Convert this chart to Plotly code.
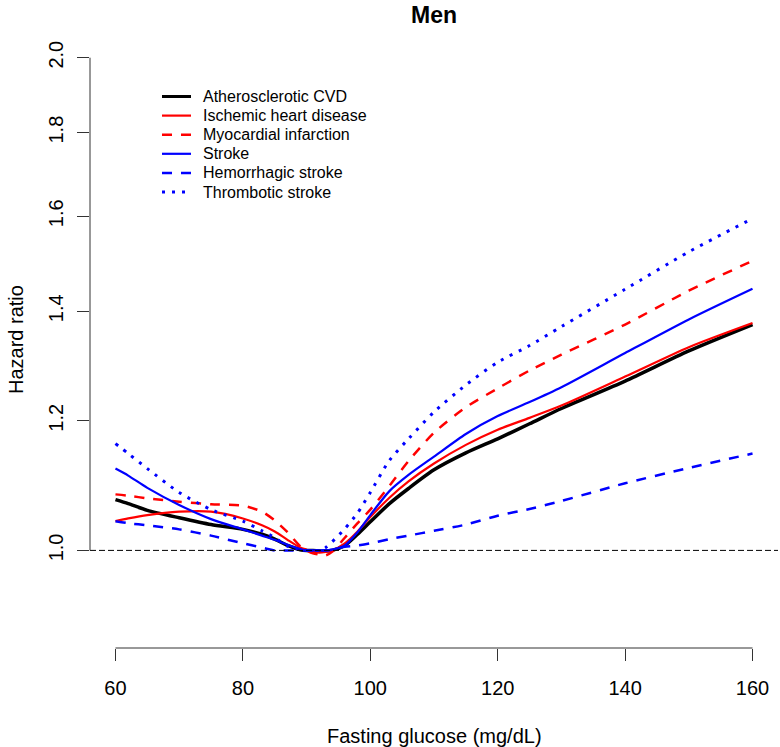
import math
import plotly.graph_objects as go

# ---- data ----
glucose = [60, 62, 65, 70, 75, 80, 83, 85, 87, 89, 90, 91, 92, 93, 94, 96, 98, 100,
           103, 106, 110, 115, 120, 125, 130, 140, 150, 160]

ascvd = [1.074, 1.068, 1.058, 1.047, 1.037, 1.030, 1.023, 1.016, 1.007, 1.001, 1.000, 1.000,
         0.999, 0.999, 1.000, 1.007, 1.023, 1.041, 1.068, 1.091, 1.120, 1.147, 1.170, 1.195,
         1.221, 1.269, 1.324, 1.374]
ihd = [1.042, 1.046, 1.051, 1.056, 1.056, 1.046, 1.036, 1.027, 1.015, 1.004, 1.001, 0.998,
       0.997, 0.998, 1.000, 1.010, 1.027, 1.048, 1.077, 1.102, 1.130, 1.160, 1.185, 1.205,
       1.226, 1.277, 1.331, 1.377]
mi = [1.082, 1.080, 1.076, 1.071, 1.067, 1.065, 1.056, 1.043, 1.026, 1.006, 1.000, 0.996,
      0.994, 0.993, 0.998, 1.018, 1.039, 1.059, 1.095, 1.134, 1.180, 1.223, 1.256, 1.288,
      1.317, 1.374, 1.441, 1.503]
stroke = [1.122, 1.111, 1.092, 1.066, 1.045, 1.030, 1.021, 1.015, 1.008, 1.002, 1.000, 1.000,
          1.000, 1.000, 1.001, 1.007, 1.026, 1.051, 1.087, 1.112, 1.141, 1.178, 1.208, 1.232,
          1.258, 1.320, 1.384, 1.445]
hemorrhagic = [1.042, 1.039, 1.036, 1.030, 1.021, 1.010, 1.004, 1.000, 1.000, 1.000, 1.000,
               1.000, 1.000, 1.000, 1.001, 1.005, 1.007, 1.010, 1.016, 1.021, 1.028, 1.037,
               1.050, 1.060, 1.072, 1.099, 1.123, 1.146]
thrombotic = [1.162, 1.146, 1.122, 1.085, 1.059, 1.042, 1.028, 1.018, 1.006, 1.001, 1.000,
              1.000, 1.000, 1.004, 1.012, 1.031, 1.054, 1.085, 1.135, 1.170, 1.215, 1.262,
              1.303, 1.334, 1.370, 1.444, 1.522, 1.595]

series_names = ["Atherosclerotic CVD", "Ischemic heart disease", "Myocardial infarction",
                "Stroke", "Hemorrhagic stroke", "Thrombotic stroke"]
series_values = [ascvd, ihd, mi, stroke, hemorrhagic, thrombotic]

x_ticks = [60, 80, 100, 120, 140, 160]
y_ticks = [1.0, 1.2, 1.4, 1.6, 1.8, 2.0]
y_tick_labels = ["1.0", "1.2", "1.4", "1.6", "1.8", "2.0"]
reference_hr = 1.0

title_text = "Men"
x_title = "Fasting glucose (mg/dL)"
y_title = "Hazard ratio"

# ---- styles ----
styles = [
    dict(color="#000000", width=3.5, dash="solid"),
    dict(color="#FF0000", width=2.2, dash="solid"),
    dict(color="#FF0000", width=2.5, dash="10px,9px"),
    dict(color="#0000FF", width=2.2, dash="solid"),
    dict(color="#0000FF", width=2.5, dash="10px,9px"),
    dict(color="#0000FF", width=3, dash="3px,7px"),
]

FONT = "Liberation Sans, Arial, sans-serif"
W, H = 780, 747
ML, MR, MT, MB = 90, 2, 35, 99
PW, PH = W - ML - MR, H - MT - MB


def px_to_paper_x(px):
    return (px - ML) / PW


def px_to_paper_y(py):
    return (H - MB - py) / PH


fig = go.Figure()
for name, vals, st in zip(series_names, series_values, styles):
    fig.add_trace(go.Scatter(
        x=glucose, y=vals, name=name, mode="lines", showlegend=False,
        line=dict(color=st["color"], width=st["width"], dash=st["dash"],
                  shape="spline", smoothing=0.7),
    ))

xmin, xmax = min(x_ticks), max(x_ticks)
xpad = 0.04 * (xmax - xmin)
ylo, yhi = math.log10(0.9), math.log10(2.0)
ypad = 0.04 * (yhi - ylo)

shapes = [
    dict(type="line", xref="paper", x0=0, x1=1, yref="y", y0=reference_hr, y1=reference_hr,
         line=dict(color="#000000", width=1, dash="6px,3px")),
    dict(type="line", xref="paper", x0=0, x1=0, yref="y", y0=min(y_ticks), y1=max(y_ticks),
         line=dict(color="#333333", width=1)),
    dict(type="line", xref="x", x0=xmin, x1=xmax, yref="paper", y0=0, y1=0,
         line=dict(color="#333333", width=1)),
]

annotations = [
    dict(text="<b>" + title_text + "</b>", xref="paper", yref="paper", x=0.5,
         y=px_to_paper_y(0), xanchor="center", yanchor="top", showarrow=False,
         font=dict(size=23, family=FONT, color="#000000")),
    dict(text=x_title, xref="paper", yref="paper", x=0.5, y=px_to_paper_y(736),
         xanchor="center", yanchor="middle", showarrow=False,
         font=dict(size=20, family=FONT, color="#000000")),
    dict(text=y_title, xref="paper", yref="paper", x=px_to_paper_x(16), y=px_to_paper_y(340),
         xanchor="center", yanchor="middle", textangle=-90, showarrow=False,
         font=dict(size=20, family=FONT, color="#000000")),
]

# manual legend (R style: tight rows)
LEG_LINE_X0, LEG_LINE_X1, LEG_TEXT_X = 162, 191, 201
LEG_Y0, LEG_DY = 96.5, 19.1
for i, (name, st) in enumerate(zip(series_names, styles)):
    yy = px_to_paper_y(LEG_Y0 + i * LEG_DY)
    shapes.append(dict(type="line", xref="paper", yref="paper",
                       x0=px_to_paper_x(LEG_LINE_X0), x1=px_to_paper_x(LEG_LINE_X1),
                       y0=yy, y1=yy,
                       line=dict(color=st["color"], width=min(st["width"], 3),
                                 dash=st["dash"])))
    annotations.append(dict(text=name, xref="paper", yref="paper",
                            x=px_to_paper_x(LEG_TEXT_X), y=yy,
                            xanchor="left", yanchor="middle", showarrow=False,
                            font=dict(size=16, family=FONT, color="#000000")))

fig.update_layout(
    width=W, height=H,
    margin=dict(l=ML, r=MR, t=MT, b=MB, autoexpand=False),
    paper_bgcolor="white", plot_bgcolor="white",
    font=dict(family=FONT, size=20, color="#000000"),
    showlegend=False,
    xaxis=dict(range=[xmin - xpad, xmax + xpad], tickvals=x_ticks,
               ticktext=[str(v) for v in x_ticks],
               showgrid=False, zeroline=False, showline=False, automargin=False,
               ticks="outside", ticklen=12, tickwidth=1, tickcolor="#333333",
               tickfont=dict(size=20, family=FONT, color="#000000"),
               ticklabelstandoff=10),
    yaxis=dict(type="log", range=[ylo - ypad, yhi + ypad], tickvals=y_ticks,
               ticktext=y_tick_labels, tickangle=-90, automargin=False,
               showgrid=False, zeroline=False, showline=False,
               ticks="outside", ticklen=12, tickwidth=1, tickcolor="#333333",
               tickfont=dict(size=20, family=FONT, color="#000000"),
               ticklabelstandoff=6),
    shapes=shapes,
    annotations=annotations,
)

fig.write_html("out.html", config={"displayModeBar": False},
               post_script="document.body.style.margin='0';document.body.style.overflow='hidden';")
